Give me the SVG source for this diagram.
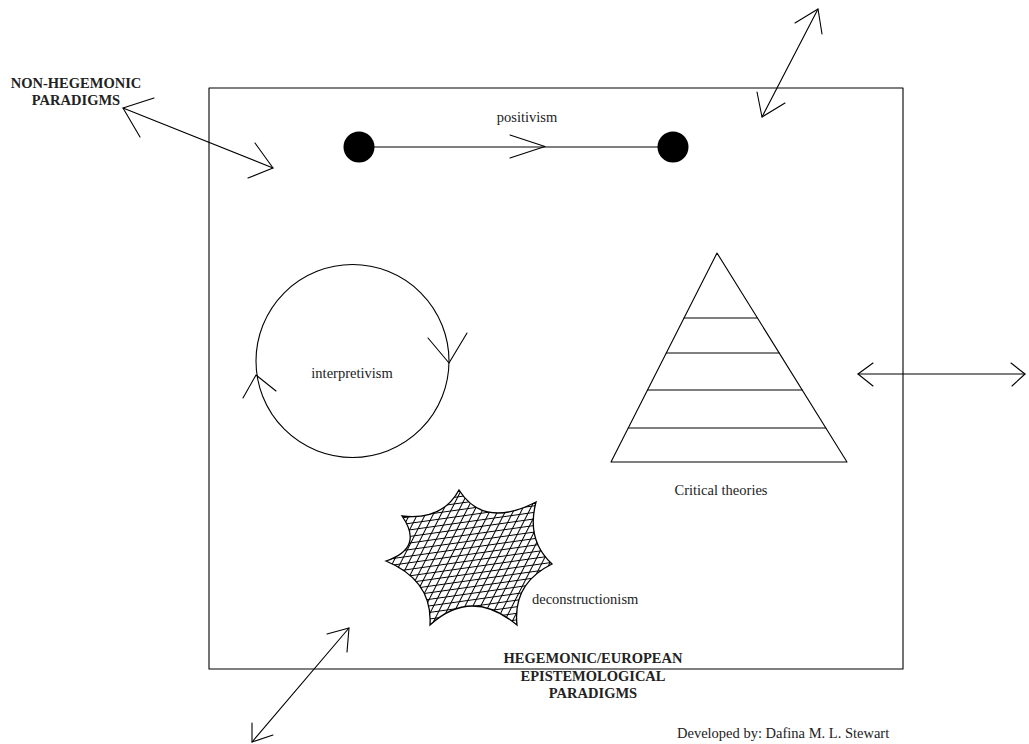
<svg xmlns="http://www.w3.org/2000/svg" width="1029" height="744" viewBox="0 0 1029 744">
<style>
.ln{fill:none;stroke:#000;stroke-width:1.1;stroke-linecap:round;stroke-linejoin:round}
.lbl{font-family:"Liberation Serif","Times New Roman",serif;font-size:14.5px;fill:#222}
.bold{font-family:"Liberation Serif","Times New Roman",serif;font-size:14.5px;font-weight:bold;fill:#222;text-anchor:middle}
</style>
<defs>
<pattern id="hatchH" width="12" height="6.5" patternUnits="userSpaceOnUse" patternTransform="rotate(-8)">
<line x1="0" y1="3.25" x2="12" y2="3.25" stroke="#000" stroke-width="1"/>
</pattern>
<pattern id="hatchS" width="7" height="12" patternUnits="userSpaceOnUse" patternTransform="rotate(27)">
<line x1="3.5" y1="0" x2="3.5" y2="12" stroke="#000" stroke-width="1"/>
</pattern>
</defs>
<rect width="1029" height="744" fill="#fff"/>

<g id="frame">
<rect x="209" y="88" width="694" height="581" class="ln"/>
</g>

<g id="non-hegemonic-label">
<text class="bold" x="76" y="88">NON-HEGEMONIC</text>
<text class="bold" x="76" y="105">PARADIGMS</text>
</g>

<g id="positivism">
<line x1="359" y1="147" x2="673" y2="147" class="ln"/>
<polyline points="510,135 545,146.5 510,158" class="ln"/>
<circle cx="359" cy="147" r="15.5" fill="#000"/>
<circle cx="673" cy="147" r="15.5" fill="#000"/>
<text class="lbl" x="527" y="122" text-anchor="middle">positivism</text>
</g>

<g id="interpretivism">
<circle cx="352.5" cy="361" r="96.5" class="ln"/>
<polyline points="428,338 449,363 467,333" class="ln"/>
<polyline points="243,398 256,375 276,391" class="ln"/>
<text class="lbl" x="352" y="378" text-anchor="middle">interpretivism</text>
</g>

<g id="critical-theories">
<polygon points="717,253 611,462 847,462" class="ln"/>
<line x1="684" y1="318" x2="757.4" y2="318" class="ln"/>
<line x1="666.3" y1="353" x2="779.2" y2="353" class="ln"/>
<line x1="647.5" y1="390" x2="802.2" y2="390" class="ln"/>
<line x1="628.2" y1="428" x2="825.8" y2="428" class="ln"/>
<text class="lbl" x="721" y="495" text-anchor="middle">Critical theories</text>
</g>

<g id="deconstructionism">
<path d="M459,490 Q483.75,529 536,502 Q526,540 552,564 Q512.5,583.5 517,625 Q471.4,587 430,625 Q432.8,580.6 386,561 Q424.4,548 402,516 Q442.4,520.7 459,490 Z" fill="url(#hatchH)"/>
<path d="M459,490 Q483.75,529 536,502 Q526,540 552,564 Q512.5,583.5 517,625 Q471.4,587 430,625 Q432.8,580.6 386,561 Q424.4,548 402,516 Q442.4,520.7 459,490 Z" fill="url(#hatchS)" stroke="#000" stroke-width="1.3" stroke-linejoin="miter"/>
<text class="lbl" x="532" y="604">deconstructionism</text>
</g>

<g id="hegemonic-label">
<text class="bold" x="593" y="663">HEGEMONIC/EUROPEAN</text>
<text class="bold" x="593" y="681">EPISTEMOLOGICAL</text>
<text class="bold" x="593" y="698">PARADIGMS</text>
</g>

<g id="credit">
<text class="lbl" x="677" y="738">Developed by: Dafina M. L. Stewart</text>
</g>

<g id="connectors">
<line x1="123" y1="108" x2="273" y2="168" class="ln"/>
<polyline points="154,98 123,108 140,137" class="ln"/>
<polyline points="255,143 273,168 248,178" class="ln"/>

<line x1="762" y1="117" x2="818" y2="9" class="ln"/>
<polyline points="795,23 818,9 822,34" class="ln"/>
<polyline points="757,92 762,117 785,103" class="ln"/>

<line x1="858" y1="374" x2="1025" y2="374" class="ln"/>
<polyline points="873,363 858,374 873,386" class="ln"/>
<polyline points="1011,363 1025,374 1012,386" class="ln"/>

<line x1="252" y1="742" x2="349" y2="628" class="ln"/>
<polyline points="327,634 349,628 347,652" class="ln"/>
<polyline points="252,723 252,742 273,735" class="ln"/>
</g>
</svg>
